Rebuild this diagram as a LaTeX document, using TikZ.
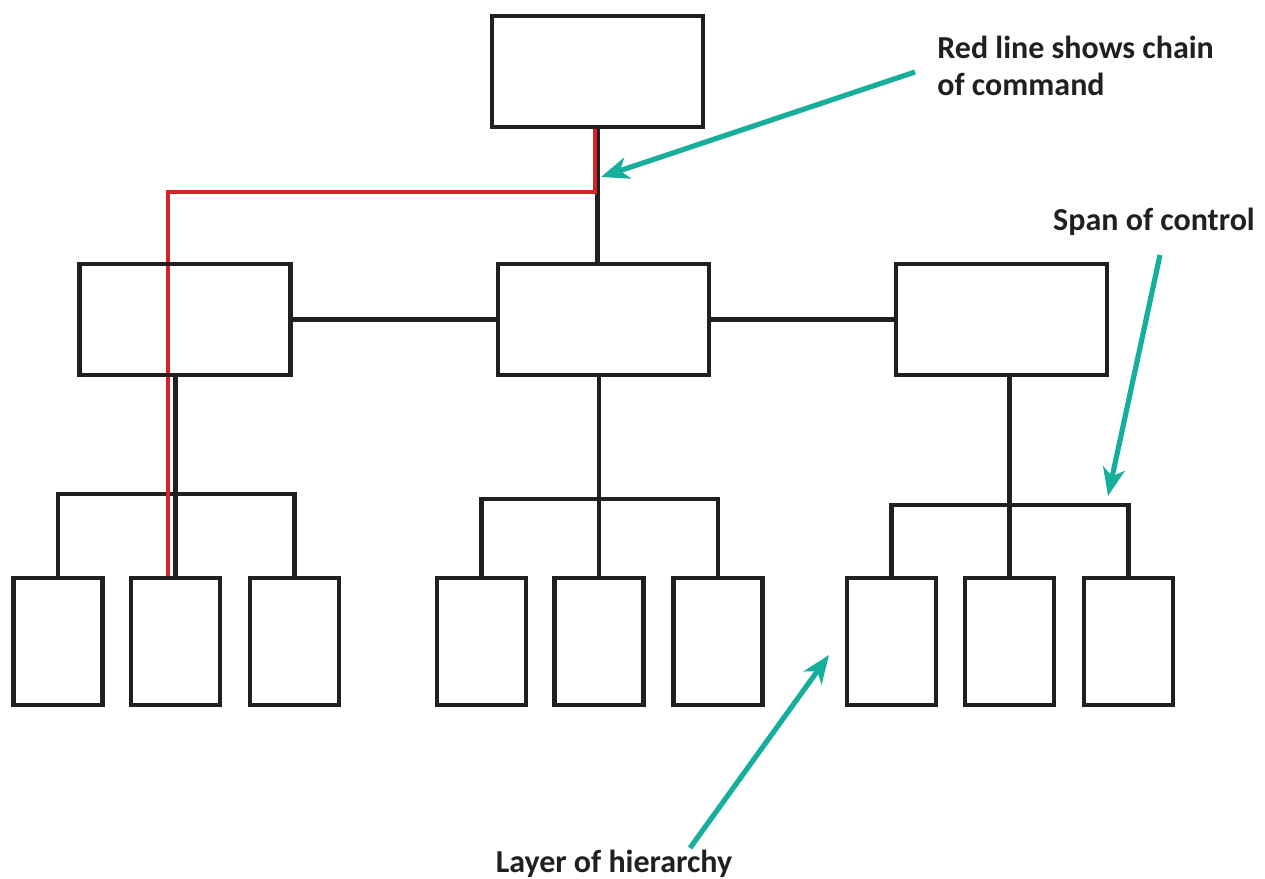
\documentclass[tikz,border=0pt]{standalone}
\usepackage{fontspec}
\setmainfont{Carlito}
\usetikzlibrary{arrows.meta,backgrounds}
\definecolor{ink}{HTML}{231F20}
\definecolor{chain}{HTML}{D6232A}
\definecolor{teal}{HTML}{17AE9B}
\tikzset{
  box/.style={draw=ink,line width=2.2pt,rectangle,inner sep=0pt},
  bigbox/.style={box,minimum width=105.5pt,minimum height=55.5pt},
  smallbox/.style={box,minimum width=44.5pt,minimum height=63.5pt},
  link/.style={draw=ink,line width=2.2pt},
  chainline/.style={draw=chain,line width=2.4pt},
  pointer/.style={draw=teal,line width=2.6pt,-{Stealth[length=14pt,width=11pt,inset=4pt]}},
  lbl/.style={inner sep=0pt,font=\fontsize{16pt}{19pt}\selectfont\bfseries,text=ink}
}
\begin{document}
\begin{tikzpicture}[x=0.5pt,y=-0.5pt]
\useasboundingbox (0,0) rectangle (1265,879);
% boxes
\node[bigbox] (top) at (597.5,71.5) {};
\node[bigbox] (m1) at (185,319.5) {};
\node[bigbox] (m2) at (603.5,319.5) {};
\node[bigbox] (m3) at (1001.5,319.5) {};
\node[smallbox] (b1) at (58,641.5) {};
\node[smallbox] (b2) at (175.5,641.5) {};
\node[smallbox] (b3) at (294.5,641.5) {};
\node[smallbox] (b4) at (481.5,641.5) {};
\node[smallbox] (b5) at (599,641.5) {};
\node[smallbox] (b6) at (718,641.5) {};
\node[smallbox] (b7) at (891.5,641.5) {};
\node[smallbox] (b8) at (1009.5,641.5) {};
\node[smallbox] (b9) at (1128.5,641.5) {};
% bracket levels
\coordinate (k1) at (0,494);
\coordinate (k2) at (0,499);
\coordinate (k3) at (0,505);
\coordinate (rc) at (595,192);
\coordinate (rx) at (168,0);
\begin{scope}[on background layer]
  % top to middle
  \draw[link] (top.south) -- (top.south |- m2.north);
  \draw[link] (m1.east) -- (m2.west);
  \draw[link] (m2.east) -- (m3.west);
  % left group
  \draw[link] (b2.north |- m1.south) -- (b2.north);
  \draw[link] (b1.north) -- (b1.north |- k1) -- (b3.north |- k1) -- (b3.north);
  % middle group
  \draw[link] (b5.north |- m2.south) -- (b5.north);
  \draw[link] (b4.north) -- (b4.north |- k2) -- (b6.north |- k2) -- (b6.north);
  % right group
  \draw[link] (b8.north |- m3.south) -- (b8.north);
  \draw[link] (b7.north) -- (b7.north |- k3) -- (b9.north |- k3) -- (b9.north);
  % chain of command
  \draw[chainline] (rc |- top.south) -- (rc) -- (rc -| rx) -- (rx |- b2.north);
\end{scope}
% labels
\node[lbl,anchor=base west] (l1) at (937,58) {Red line shows chain};
\node[lbl,anchor=base west] (l1b) at (937,95) {of command};
\node[lbl,anchor=base] (l2) at (1154,230) {Span of control};
\node[lbl,anchor=base] (l3) at (614,872) {Layer of hierarchy};
% pointers
\coordinate (a1s) at (915,72);
\coordinate (a1e) at (601,177);
\coordinate (a2s) at (1160,255);
\coordinate (a2e) at (1108,496);
\coordinate (a3s) at (690,848);
\coordinate (a3e) at (829,655);
\draw[pointer] (a1s) -- (a1e);
\draw[pointer] (a2s) -- (a2e);
\draw[pointer] (a3s) -- (a3e);
\end{tikzpicture}
\end{document}
